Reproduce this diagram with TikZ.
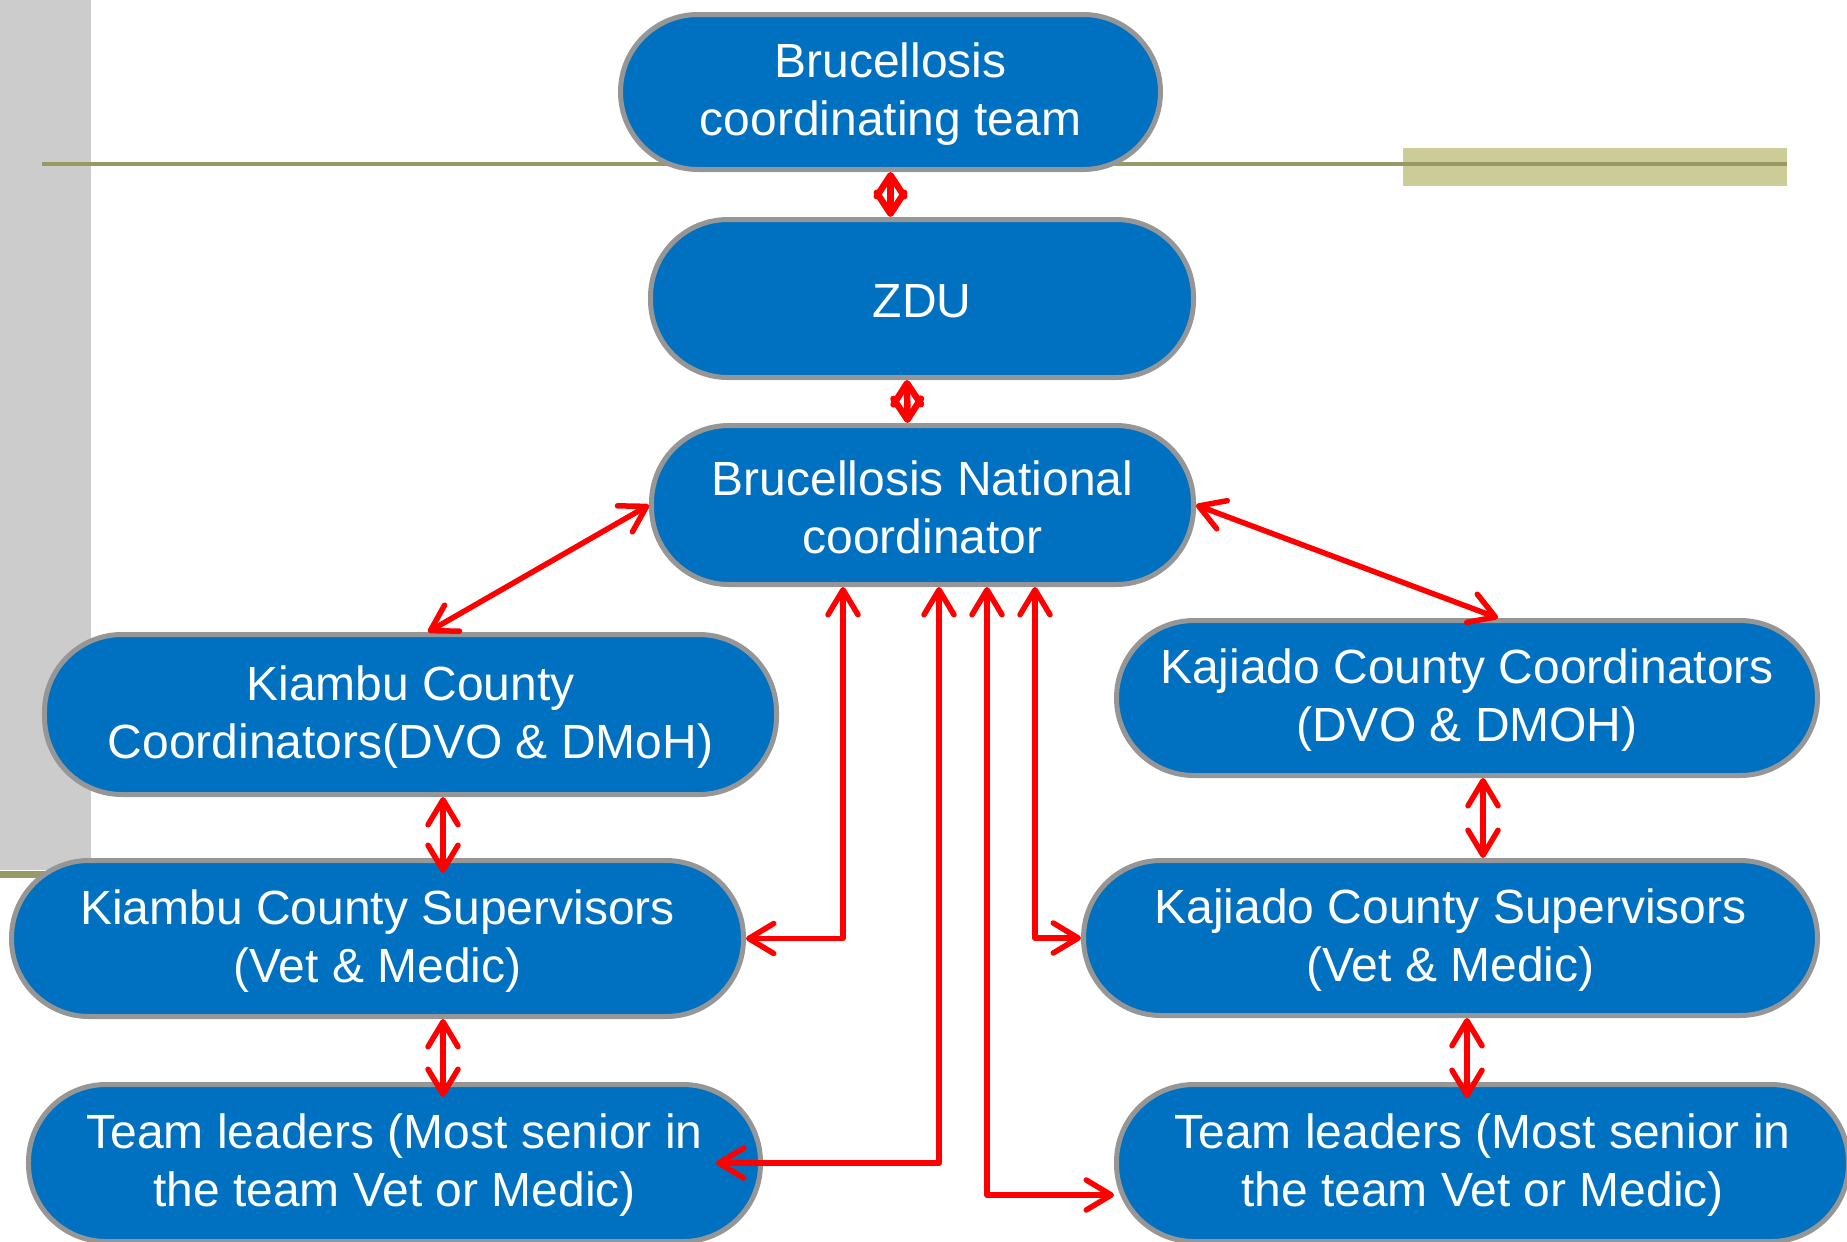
\documentclass[tikz,border=0pt]{standalone}
\usepackage{fontspec}
\setmainfont{Liberation Sans}
\usetikzlibrary{arrows.meta,calc}
\definecolor{boxblue}{RGB}{0,112,192}
\definecolor{boxgray}{RGB}{150,150,150}
\definecolor{sidegray}{RGB}{204,204,204}
\definecolor{oliveline}{RGB}{153,153,102}
\definecolor{oliveband}{RGB}{204,204,153}
\begin{document}
\begin{tikzpicture}[x=0.4pt,y=-0.4pt,
  pill/.style={draw=boxgray, fill=boxblue, line width=2pt, rounded corners=31pt,
    inner sep=0pt},
  lbl/.style={align=center, text=white, yshift=-1pt, inner sep=0pt,
    font=\fontsize{19.2}{23.2}\selectfont},
  arr/.style={draw=red, line width=2.2pt, line cap=round, line join=round, <->,
    >={Straight Barb[length=10pt,width=12pt,line cap=round,line join=round]}},
  shortarr/.style={draw=red, line width=2.6pt, line cap=round, line join=round, <->,
    >={Straight Barb[length=8.4pt,width=11pt,line cap=round,line join=round]}}]
\useasboundingbox (0,0) rectangle (1847,1241);
\clip (0,0) rectangle (1847,1241);
% background decoration
\fill[sidegray] (0,0) rectangle (91,870);
\fill[oliveband] (1403,148) rectangle (1787,186);
\draw[oliveline, line width=1.6pt] (42,164) -- (1787,164);
\draw[oliveline, line width=2.8pt] (0,874) -- (120,874);
% nodes
\node[pill, minimum width=216pt, minimum height=62pt,
  label={[lbl]center:{Brucellosis\\coordinating team}}] (top) at (890.5,92) {};
\node[pill, minimum width=217.2pt, minimum height=63.2pt,
  label={[lbl]center:{ZDU}}] (zdu) at (922,298.5) {};
\node[pill, minimum width=216.8pt, minimum height=63.6pt,
  label={[lbl]center:{Brucellosis National\\coordinator}}] (nat) at (922.5,505) {};
\node[pill, minimum width=292.8pt, minimum height=64pt,
  label={[lbl]center:{Kiambu County\\Coordinators(DVO \& DMoH)}}] (kco) at (410.5,714.5) {};
\node[pill, minimum width=292.8pt, minimum height=62.4pt,
  label={[lbl]center:{Kiambu County Supervisors\\(Vet \& Medic)}}] (ksup) at (377.5,938.5) {};
\node[pill, minimum width=292.8pt, minimum height=62.8pt,
  label={[lbl]center:{Team leaders (Most senior in\\the team Vet or Medic)}}] (tl) at (394.5,1163) {};
\node[pill, minimum width=280.4pt, minimum height=62pt,
  label={[lbl]center:{Kajiado County Coordinators\\(DVO \& DMOH)}}] (jco) at (1467,698) {};
\node[pill, minimum width=293.6pt, minimum height=62pt,
  label={[lbl]center:{Kajiado County Supervisors\\(Vet \& Medic)}}] (jsup) at (1450.5,938) {};
\node[pill, minimum width=292.8pt, minimum height=62.8pt,
  label={[lbl]center:{Team leaders (Most senior in\\the team Vet or Medic)}}] (tr) at (1482.5,1163) {};
% connectors
\draw[shortarr] (top.south) -- (top.south |- zdu.north);
\draw[shortarr] ($(zdu.south)+(-15,0)$) -- ($(nat.north)+(-15,0)$);
\draw[arr] (nat.west) -- ($(kco.north)+(17.5,0)$);
\draw[arr] (nat.east) -- ($(jco.north)+(31,0)$);
\draw[arr] ($(kco.south)+(32.5,0)$) -- ($(ksup.north)+(65.5,15)$);
\draw[arr] ($(ksup.south)+(65.5,0)$) -- ($(tl.north)+(48.5,15)$);
\draw[arr] ($(jco.south)+(16,0)$) -- ($(jsup.north)+(32.5,0)$);
\draw[arr] ($(jsup.south)+(16.5,0)$) -- ($(tr.north)+(-15.5,16)$);
\draw[arr] ($(nat.south)+(-79.5,0)$) |- (ksup.east);
\draw[arr] ($(nat.south)+(16.5,0)$) |- ($(tl.east)+(-47,0)$);
\draw[arr] ($(nat.south)+(64.5,0)$) |- ($(tr.west)+(0,32)$);
\draw[arr] ($(nat.south)+(112.5,0)$) |- (jsup.west);
\end{tikzpicture}
\end{document}
